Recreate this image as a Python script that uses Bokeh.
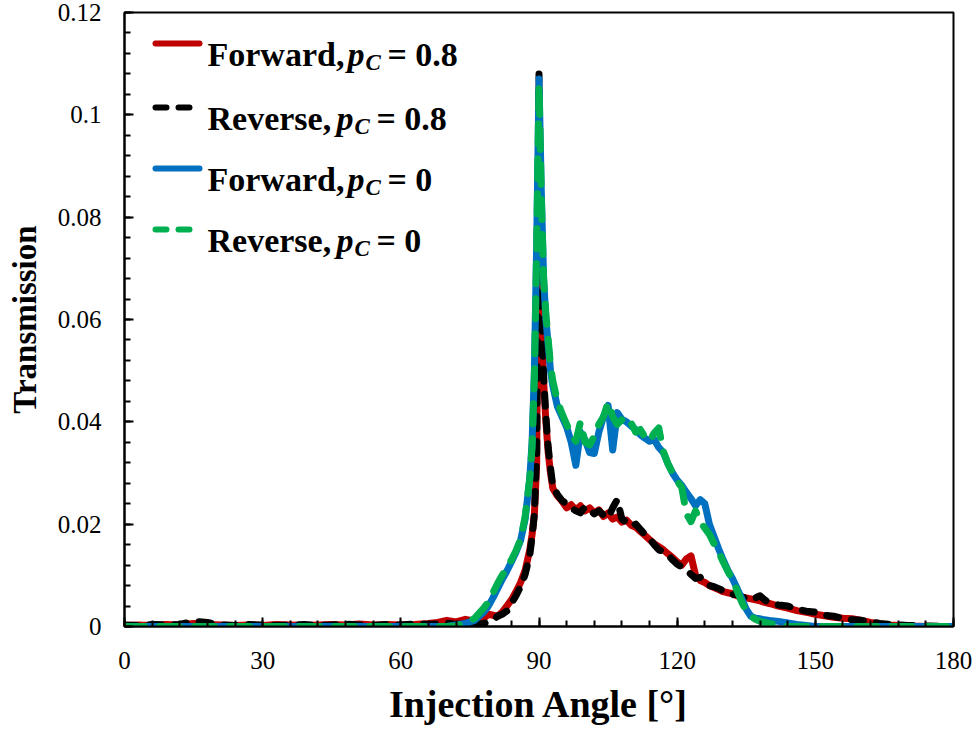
import numpy as np
from bokeh.plotting import figure
from bokeh.models import FixedTicker, CustomJSTickFormatter, Label, Range1d
from bokeh.embed import file_html
from bokeh.resources import INLINE

# ---- data -------------------------------------------------------------
angle = [0, 3, 6, 9, 12, 15, 18, 21, 24, 27, 30, 33, 36, 39, 42, 45, 48, 51, 54, 57, 60, 63, 66,
         68, 70, 72, 74, 76, 78,
         79, 80, 81, 82, 83, 84, 85, 86, 87, 88,
         88.5, 89, 89.5, 90, 90.5, 91, 91.5, 92, 92.5, 93,
         94, 95, 96, 97, 98, 99, 100, 101, 102, 103, 104, 105, 106, 107, 108, 109, 110,
         111, 112, 113, 114, 115, 116, 117, 118, 119, 120, 121, 122, 123, 124, 125, 126,
         127, 128, 129, 130, 131, 132, 133, 134, 135, 136, 137, 138, 139, 140,
         142, 144, 146, 148, 150, 152, 154, 156, 158, 160, 162, 164, 166,
         170, 175, 180]

forward_pc08 = [0.0002, 0.0003, 0.0002, 0.0004, 0.0003, 0.0006, 0.0004, 0.0003, 0.0002, 0.0003, 0.0002, 0.0004,
                0.0003, 0.0002, 0.0003, 0.0004, 0.0003, 0.0005, 0.0003, 0.0004, 0.0003, 0.0004, 0.0006,
                0.0008, 0.0012, 0.0009, 0.0014, 0.0011, 0.0016,
                0.0024, 0.0022, 0.0020, 0.0028, 0.0040, 0.0052, 0.0068, 0.0086, 0.0110, 0.0150,
                0.0180, 0.0220, 0.0320, 0.1060, 0.0620, 0.0480, 0.0400, 0.0340, 0.0300, 0.0270,
                0.0255, 0.0245, 0.0232, 0.0238, 0.0228, 0.0236, 0.0226, 0.0232, 0.0222, 0.0228, 0.0215, 0.0222,
                0.0210, 0.0214, 0.0204, 0.0208, 0.0198, 0.0194, 0.0186, 0.0178, 0.0170, 0.0162, 0.0156, 0.0150,
                0.0142, 0.0135, 0.0126, 0.0120, 0.0132, 0.0138, 0.0100, 0.0090, 0.0086, 0.0080, 0.0076, 0.0072,
                0.0068, 0.0066, 0.0064, 0.0060, 0.0058, 0.0056, 0.0054, 0.0052, 0.0050, 0.0047, 0.0045,
                0.0040, 0.0036, 0.0031, 0.0028, 0.0024, 0.0021, 0.0018, 0.0016, 0.0015, 0.0012, 0.0008, 0.0005, 0.0003,
                0.0001, 0.0, 0.0]

reverse_pc08 = [0.0003, 0.0002, 0.0004, 0.0003, 0.0004, 0.0010, 0.0008, 0.0003, 0.0002, 0.0004, 0.0003, 0.0002,
                0.0003, 0.0004, 0.0002, 0.0003, 0.0005, 0.0003, 0.0002, 0.0004, 0.0003, 0.0005, 0.0004,
                0.0005, 0.0007, 0.0004, 0.0006, 0.0004, 0.0006,
                0.0009, 0.0012, 0.0020, 0.0024, 0.0030, 0.0045, 0.0060, 0.0078, 0.0102, 0.0140,
                0.0175, 0.0220, 0.0340, 0.1080, 0.0640, 0.0490, 0.0410, 0.0350, 0.0310, 0.0275,
                0.0258, 0.0246, 0.0240, 0.0232, 0.0226, 0.0222, 0.0234, 0.0228, 0.0220, 0.0226, 0.0218, 0.0212,
                0.0232, 0.0248, 0.0210, 0.0204, 0.0196, 0.0200, 0.0190, 0.0180, 0.0172, 0.0160, 0.0150, 0.0146,
                0.0140, 0.0130, 0.0122, 0.0116, 0.0110, 0.0102, 0.0094, 0.0096, 0.0086, 0.0080, 0.0078, 0.0074,
                0.0070, 0.0066, 0.0062, 0.0064, 0.0058, 0.0055, 0.0052, 0.0056, 0.0060, 0.0052, 0.0046,
                0.0042, 0.0040, 0.0034, 0.0030, 0.0028, 0.0022, 0.0020, 0.0016, 0.0013, 0.0012, 0.0009, 0.0006, 0.0004,
                0.0002, 0.0001, 0.0]

forward_pc0 = [0.0] * 23 + [
               0.0, 0.0, 0.0003, 0.0006, 0.0012, 0.0028,
               0.0040, 0.0056, 0.0074, 0.0092, 0.0108, 0.0126, 0.0145, 0.0168, 0.0210, 0.0290,
               0.0360, 0.0500, 0.0750, 0.1070, 0.0850, 0.0680, 0.0600, 0.0550, 0.0500, 0.0470,
               0.0430, 0.0410, 0.0390, 0.0360, 0.0315, 0.0380, 0.0365, 0.0340, 0.0338, 0.0380, 0.0410, 0.0432,
               0.0345, 0.0418, 0.0405, 0.0400, 0.0392, 0.0385, 0.0375, 0.0368, 0.0362, 0.0366, 0.0350, 0.0340,
               0.0318, 0.0300, 0.0286, 0.0276, 0.0262, 0.0250, 0.0236, 0.0248, 0.0240, 0.0200, 0.0176, 0.0152,
               0.0130, 0.0110, 0.0094, 0.0075, 0.0055, 0.0034, 0.0020, 0.0016, 0.0015, 0.0013, 0.0012,
               0.0010, 0.0007, 0.0004, 0.0002, 0.0, 0.0, 0.0, 0.0, 0.0, 0.0, 0.0, 0.0, 0.0,
               0.0, 0.0, 0.0]

reverse_pc0 = [0.0] * 23 + [
               0.0, 0.0, 0.0001, 0.0007, 0.0016, 0.0036,
               0.0048, 0.0066, 0.0084, 0.0100, 0.0114, 0.0130, 0.0148, 0.0170, 0.0215, 0.0290,
               0.0350, 0.0490, 0.0740, 0.1060, 0.0840, 0.0680, 0.0610, 0.0560, 0.0510, 0.0480,
               0.0440, 0.0416, 0.0395, 0.0375, 0.0362, 0.0400, 0.0360, 0.0355, 0.0372, 0.0395, 0.0410, 0.0438,
               0.0410, 0.0395, 0.0404, 0.0392, 0.0398, 0.0380, 0.0385, 0.0370, 0.0362, 0.0378, 0.0388, 0.0342,
               0.0318, 0.0300, 0.0284, 0.0272, 0.0220, 0.0205, 0.0226, 0.0205, 0.0192, 0.0180, 0.0162, 0.0146,
               0.0126, 0.0108, 0.0092, 0.0070, 0.0048, 0.0030, 0.0020, 0.0014, 0.0010, 0.0008, 0.0006,
               0.0003, 0.0, 0.0, 0.0, 0.0, 0.0, 0.0, 0.0, 0.0, 0.0, 0.0, 0.0, 0.0,
               0.0, 0.0, 0.0]

for s in (forward_pc08, reverse_pc08, forward_pc0, reverse_pc0):
    assert len(s) == len(angle)

x_ticks = [0, 30, 60, 90, 120, 150, 180]
y_ticks = [0, 0.02, 0.04, 0.06, 0.08, 0.1, 0.12]

series = [
    # (values, colour, dash, legend word, p_C value)
    (forward_pc08, "#C00000", "solid", "Forward,", "= 0.8"),
    (reverse_pc08, "#000000", "12 13", "Reverse,", "= 0.8"),
    (forward_pc0, "#0070C0", "solid", "Forward,", "= 0"),
    (reverse_pc0, "#00B050", "20 15", "Reverse,", "= 0"),
]

# ---- figure -----------------------------------------------------------
X0, X1, Y0, Y1 = 0, 180, 0, 0.12
W, H = 979, 731
BL, BR, BT, BB = 124, 26, 12, 105

p = figure(width=W, height=H, x_range=Range1d(X0, X1), y_range=Range1d(Y0, Y1),
           output_backend="svg", toolbar_location=None,
           min_border_left=BL, min_border_right=BR, min_border_top=BT, min_border_bottom=BB)
p.xgrid.visible = False
p.ygrid.visible = False
p.outline_line_color = "black"
p.outline_line_width = 2
p.outline_line_alpha = 1.0
p.background_fill_color = "white"
p.border_fill_color = "white"

SERIF = "Liberation Serif"
for ax in (p.xaxis[0], p.yaxis[0]):
    ax.axis_line_color = "black"
    ax.axis_line_width = 2
    ax.major_tick_in = 9
    ax.major_tick_out = 0
    ax.minor_tick_in = 6
    ax.minor_tick_out = 0
    ax.major_tick_line_color = "black"
    ax.minor_tick_line_color = "black"
    ax.major_tick_line_width = 2
    ax.minor_tick_line_width = 2
    ax.major_label_text_font = SERIF
    ax.major_label_text_font_size = "25px"
    ax.major_label_text_color = "black"
    ax.axis_label_text_font = SERIF
    ax.axis_label_text_font_style = "bold"
    ax.axis_label_text_color = "black"

p.xaxis.axis_label_text_font_size = "38px"
p.yaxis.axis_label_text_font_size = "33px"

p.xaxis.ticker = FixedTicker(ticks=x_ticks, minor_ticks=list(range(0, 181, 6)))
p.yaxis.ticker = FixedTicker(ticks=y_ticks, minor_ticks=[round(i * 0.004, 4) for i in range(31)])
p.yaxis.formatter = CustomJSTickFormatter(
    code="return tick.toFixed(2).replace(/0+$/, '').replace(/\\.$/, '');")
p.xaxis.major_label_standoff = 25
p.yaxis.major_label_standoff = 23
p.xaxis.axis_label = "Injection Angle [°]"
p.yaxis.axis_label = "Transmission"
p.xaxis.axis_label_standoff = 11
p.yaxis.axis_label_standoff = 12

# ---- curves -----------------------------------------------------------
for vals, color, dash, _, _ in series:
    p.line(angle, vals, line_color=color, line_width=7, line_dash=dash,
           line_cap="round", line_join="round")

# ---- legend (drawn by hand so p_C can be italic with a subscript) ------
FL, FR, FT, FB = BL, W - BR, BT, H - BB


def px_x(px):
    return X0 + (px - FL) / (FR - FL) * (X1 - X0)


def px_y(py):
    return Y0 + (FB - py) / (FB - FT) * (Y1 - Y0)


row_y = [43, 107, 168, 229]
legend_dash = {"solid": "solid", "12 13": "11 12", "20 15": "11 12"}
for i, (vals, color, dash, word, tail) in enumerate(series):
    cy = row_y[i]
    p.line([px_x(155), px_x(199)], [px_y(cy), px_y(cy)], line_color=color, line_width=6,
           line_dash=legend_dash[dash], line_cap="round")
    base = cy + 11
    wide = word.startswith("Forward")
    x_p = 347 if wide else 336
    parts = [
        (207, base, word, "bold", "34px"),
        (x_p, base, "p", "bold italic", "34px"),
        (x_p + 18, base + 8, "C", "bold italic", "23px"),
        (x_p + 40, base, tail, "bold", "34px"),
    ]
    for px, py, txt, style, size in parts:
        p.add_layout(Label(x=px_x(px), y=px_y(py), text=txt, text_font=SERIF,
                           text_font_style=style, text_font_size=size, text_color="black",
                           text_align="left", text_baseline="alphabetic"))

open("out.html", "w").write(file_html(p, INLINE))
